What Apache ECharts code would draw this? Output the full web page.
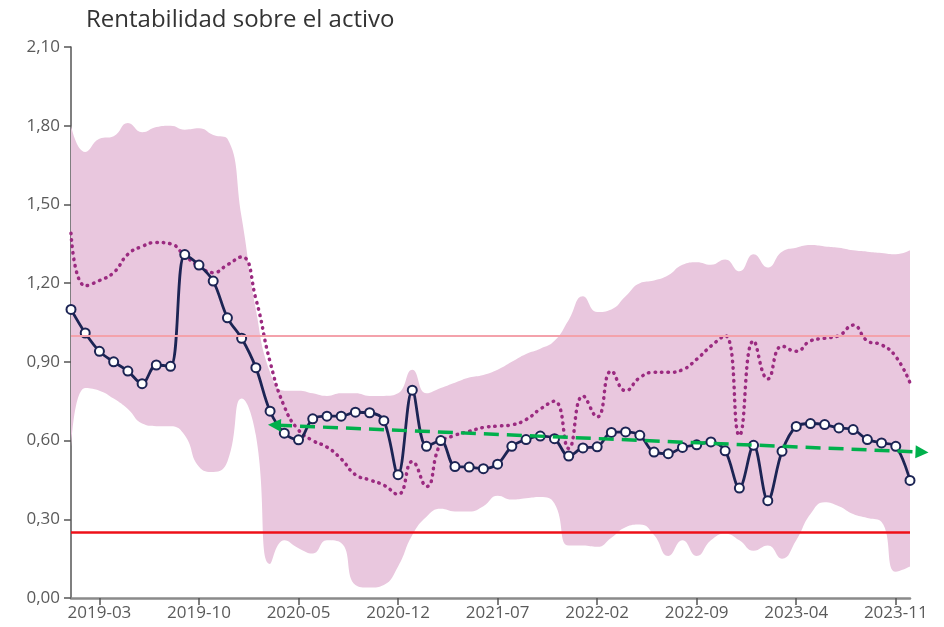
<!DOCTYPE html>
<html>
<head>
<meta charset="utf-8">
<script src="https://cdn.jsdelivr.net/npm/echarts@6/dist/echarts.min.js"></script>
<style>
  html, body { margin: 0; padding: 0; background: #fff; }
  #echart { width: 944px; height: 627px; }
</style>
</head>
<body>
<div id="echart"></div>
<script>
// meses 2019-01 .. 2023-12
var months = [
    '2019-01','2019-02','2019-03','2019-04','2019-05','2019-06','2019-07','2019-08','2019-09','2019-10','2019-11','2019-12',
    '2020-01','2020-02','2020-03','2020-04','2020-05','2020-06','2020-07','2020-08','2020-09','2020-10','2020-11','2020-12',
    '2021-01','2021-02','2021-03','2021-04','2021-05','2021-06','2021-07','2021-08','2021-09','2021-10','2021-11','2021-12',
    '2022-01','2022-02','2022-03','2022-04','2022-05','2022-06','2022-07','2022-08','2022-09','2022-10','2022-11','2022-12',
    '2023-01','2023-02','2023-03','2023-04','2023-05','2023-06','2023-07','2023-08','2023-09','2023-10','2023-11','2023-12'
];
var tickLabels = ['2019-03','2019-10','2020-05','2020-12','2021-07','2022-02','2022-09','2023-04','2023-11'];

// rentabilidad de la entidad (linea con puntos)
var roa = [
    1.10, 1.01, 0.94, 0.90, 0.865, 0.817, 0.888, 0.883, 1.309, 1.269,
    1.208, 1.068, 0.990, 0.878, 0.712, 0.628, 0.603, 0.683, 0.693, 0.693,
    0.708, 0.706, 0.676, 0.470, 0.792, 0.578, 0.600, 0.501, 0.499, 0.493,
    0.510, 0.578, 0.604, 0.617, 0.607, 0.541, 0.572, 0.576, 0.631, 0.633,
    0.620, 0.556, 0.550, 0.574, 0.584, 0.595, 0.561, 0.419, 0.582, 0.371,
    0.559, 0.654, 0.665, 0.661, 0.648, 0.642, 0.604, 0.591, 0.578, 0.448
];
// media del sector (linea punteada)
var sector = [
    1.39, 1.19, 1.21, 1.24, 1.31, 1.34, 1.355, 1.35, 1.305, 1.265,
    1.24, 1.27, 1.30, 1.14, 0.90, 0.73, 0.64, 0.60, 0.575, 0.53,
    0.47, 0.45, 0.43, 0.395, 0.52, 0.425, 0.59, 0.62, 0.635, 0.65,
    0.655, 0.66, 0.68, 0.72, 0.75, 0.57, 0.77, 0.69, 0.865, 0.79,
    0.84, 0.86, 0.86, 0.87, 0.91, 0.96, 1.00, 0.62, 0.98, 0.835,
    0.96, 0.94, 0.98, 0.99, 1.00, 1.04, 0.98, 0.965, 0.92, 0.82
];
// banda del sector
var bandHigh = [
    1.80, 1.70, 1.75, 1.76, 1.81, 1.775, 1.795, 1.80, 1.785, 1.79,
    1.765, 1.75, 1.45, 1.10, 0.86, 0.79, 0.79, 0.78, 0.77, 0.78,
    0.78, 0.77, 0.77, 0.78, 0.87, 0.78, 0.80, 0.82, 0.84, 0.85,
    0.87, 0.90, 0.93, 0.95, 0.98, 1.06, 1.15, 1.09, 1.10, 1.15,
    1.20, 1.21, 1.23, 1.27, 1.28, 1.27, 1.29, 1.245, 1.31, 1.26,
    1.32, 1.335, 1.345, 1.34, 1.335, 1.325, 1.32, 1.315, 1.31, 1.325
];
var bandLow = [
    0.56, 0.80, 0.79, 0.76, 0.72, 0.665, 0.655, 0.655, 0.62, 0.50,
    0.48, 0.52, 0.76, 0.62, 0.13, 0.22, 0.19, 0.17, 0.22, 0.21,
    0.05, 0.04, 0.05, 0.12, 0.24, 0.31, 0.34, 0.33, 0.33, 0.35,
    0.39, 0.375, 0.38, 0.385, 0.36, 0.20, 0.20, 0.195, 0.23, 0.27,
    0.28, 0.24, 0.16, 0.22, 0.16, 0.22, 0.245, 0.22, 0.18, 0.20,
    0.15, 0.22, 0.32, 0.365, 0.35, 0.32, 0.305, 0.29, 0.10, 0.12
];
var refTarget = 1.00;   // linea rosa
var refMinimum = 0.25;  // linea roja

// tendencia (flecha verde): [indice de mes, valor]
var trendFrom = [13.85, 0.66];
var trendTo = [60.3, 0.555];

var bandRange = [];
for (var i = 0; i < bandHigh.length; i++) {
    bandRange[i] = +(bandHigh[i] - bandLow[i]).toFixed(3);
}

var dom = document.getElementById('echart');
var myChart = echarts.init(dom, null, { renderer: 'canvas' });
var labelFont = '"Open Sans", "Noto Sans", sans-serif';

var option = {
    animation: false,
    title: {
        text: 'Rentabilidad sobre el activo',
        left: 81,
        top: 3,
        textStyle: { fontFamily: labelFont, fontSize: 24, fontWeight: 'normal', color: '#333' }
    },
    grid: { left: 71, right: 34, top: 47, bottom: 29 },
    xAxis: {
        type: 'category',
        boundaryGap: false,
        data: months,
        axisLine: { lineStyle: { color: '#8a8a8a', width: 2.5 } },
        axisTick: {
            interval: function (idx, v) { return tickLabels.indexOf(months[idx]) >= 0; },
            length: 7,
            lineStyle: { color: '#555', width: 1.5 }
        },
        axisLabel: {
            interval: function (idx, v) { return tickLabels.indexOf(months[idx]) >= 0; },
            fontFamily: labelFont,
            fontSize: 17,
            color: '#5a5a5a',
            margin: 7
        },
        splitLine: { show: false }
    },
    yAxis: {
        type: 'value',
        min: 0,
        max: 2.1,
        interval: 0.3,
        axisLine: { show: true, lineStyle: { color: '#555', width: 1.5 } },
        axisTick: { show: true, length: 7, lineStyle: { color: '#555', width: 1.5 } },
        axisLabel: {
            formatter: function (v) { return v.toFixed(2).replace('.', ','); },
            fontFamily: labelFont,
            fontSize: 17,
            color: '#5a5a5a',
            margin: 11
        },
        splitLine: { show: false }
    },
    series: [
        {
            name: 'bandLow',
            type: 'line',
            stack: 'band',
            data: bandLow,
            smooth: 0.5,
            symbol: 'none',
            lineStyle: { opacity: 0 },
            silent: true
        },
        {
            name: 'bandRange',
            type: 'line',
            stack: 'band',
            data: bandRange,
            smooth: 0.5,
            symbol: 'none',
            lineStyle: { opacity: 0 },
            areaStyle: { color: '#e9c7de', opacity: 1 },
            silent: true,
            markLine: {
                silent: true,
                symbol: 'none',
                label: { show: false },
                data: [
                    { yAxis: refTarget, lineStyle: { color: '#f4a2ab', width: 2, type: 'solid' } },
                    { yAxis: refMinimum, lineStyle: { color: '#ee1018', width: 2.5, type: 'solid' } }
                ]
            }
        },
        {
            name: 'sector',
            type: 'line',
            data: sector,
            smooth: 0.5,
            symbol: 'none',
            lineStyle: { color: '#9b2a80', width: 3.5, type: [0.5, 6], cap: 'round' },
            z: 3
        },
        {
            name: 'roa',
            type: 'line',
            data: roa,
            smooth: 0.35,
            symbol: 'circle',
            symbolSize: 9,
            showAllSymbol: true,
            lineStyle: { color: '#1c2454', width: 2.8 },
            itemStyle: { color: '#fff', borderColor: '#1c2454', borderWidth: 2 },
            z: 4
        }
    ]
};

myChart.setOption(option);

// flecha de tendencia, posicion via escalas del grafico
function trendArrow() {
    var x0 = myChart.convertToPixel({ xAxisIndex: 0 }, 0);
    var x1 = myChart.convertToPixel({ xAxisIndex: 0 }, months.length - 1);
    function px(t) { return x0 + (x1 - x0) * t / (months.length - 1); }
    var ax = px(trendFrom[0]), ay = myChart.convertToPixel({ yAxisIndex: 0 }, trendFrom[1]);
    var bx = px(trendTo[0]), by = myChart.convertToPixel({ yAxisIndex: 0 }, trendTo[1]);
    var len = Math.sqrt((bx - ax) * (bx - ax) + (by - ay) * (by - ay));
    var dx = (bx - ax) / len, dy = (by - ay) / len;
    var nx = -dy, ny = dx;
    var L = 13, W = 6.5;
    var green = '#00b04c';
    function head(tx, ty, sx, sy) {
        var cx = tx - sx * L, cy = ty - sy * L;
        return [[tx, ty], [cx + nx * W, cy + ny * W], [cx - nx * W, cy - ny * W]];
    }
    myChart.setOption({
        graphic: [
            {
                type: 'line',
                z: 100,
                shape: { x1: ax + dx * L * 0.7, y1: ay + dy * L * 0.7, x2: bx - dx * L * 0.7, y2: by - dy * L * 0.7 },
                style: { stroke: green, lineWidth: 3.5, lineDash: [15, 8] }
            },
            { type: 'polygon', z: 100, shape: { points: head(ax, ay, -dx, -dy) }, style: { fill: green } },
            { type: 'polygon', z: 100, shape: { points: head(bx, by, dx, dy) }, style: { fill: green } }
        ]
    });
}
trendArrow();
window.onresize = myChart.resize;
</script>
</body>
</html>
